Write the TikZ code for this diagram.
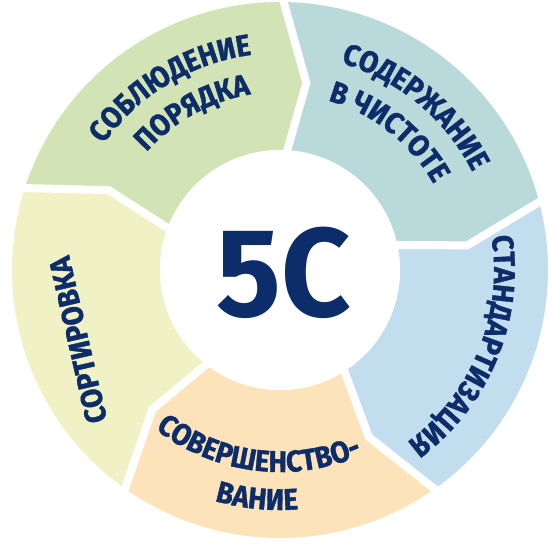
\documentclass[tikz,border=0pt]{standalone}
\usepackage{fontspec}
\newfontfamily\lblfont[FakeStretch=0.92, BoldFeatures={FakeBold=1.2}]{Fira Sans}
\newfontfamily\bigfont[FakeStretch=0.96]{Fira Sans}
\usetikzlibrary{decorations.text,calc}
\definecolor{cgreen}{HTML}{D2E3B5}
\definecolor{cteal}{HTML}{BAD9DA}
\definecolor{cblue}{HTML}{C2DDEE}
\definecolor{cpeach}{HTML}{FDE3BA}
\definecolor{cyellow}{HTML}{F0F1C5}
\definecolor{navy}{HTML}{0C2D69}
\newcommand\ringseg[3]{%
  \fill[#3] (#1+2.7:268pt) arc[start angle=#1+2.7, end angle=#2+2.7, radius=268pt]
    -- (#2-4.5:189pt) -- (#2:120pt) arc[start angle=#2, end angle=#1, radius=120pt]
    -- (#1-4.5:189pt) -- cycle;}
\newcommand\ringgap[1]{%
  \draw[gapline] ($(#1+2.7:268pt)!-0.2!(#1-4.5:189pt)$) -- (#1+2.7:268pt)
    -- (#1-4.5:189pt) -- (#1:120pt) -- ($(#1:120pt)!-0.2!(#1-4.5:189pt)$);}
\newcommand\lblset{\lblfont\bfseries\fontsize{30}{30}\selectfont\color{navy}}
\tikzset{
  gapline/.style={white, line width=8pt, line join=miter},
  lbl/.style={font=\lblfont\bfseries\fontsize{30}{30}\selectfont, text=navy},
}
\begin{document}
\begin{tikzpicture}[x=1pt,y=1pt]
\useasboundingbox (-280,-273) rectangle (273,270);
\fill[white] (-280,-273) rectangle (273,270);
% segments
\ringseg{159.5}{86.5}{cgreen}
\ringseg{86.5}{12}{cteal}
\ringseg{12}{-57.5}{cblue}
\ringseg{-57.5}{-128}{cpeach}
\ringseg{232}{159.5}{cyellow}
% gaps
\ringgap{159.5}
\ringgap{86.5}
\ringgap{12}
\ringgap{-57.5}
\ringgap{-128}
\fill[white] (0,0) circle[radius=120pt];
% centre
\node[font=\bigfont\bfseries\fontsize{126}{126}\selectfont, text=navy, inner sep=0pt] (five) at (4,-3) {5С};
% labels along arcs
\path[decorate, decoration={text along path, text align=center,
  text={|\lblset|СОБЛЮДЕНИЕ}}]
  (156:217pt) arc[start angle=156, end angle=86, radius=217pt];
\path[decorate, decoration={text along path, text align=center,
  text={|\lblset|ПОРЯДКА}}]
  (154:178pt) arc[start angle=154, end angle=84, radius=178pt];
\path[decorate, decoration={text along path, text align=center,
  text={|\lblset|СОДЕРЖАНИЕ}}]
  (85.3:216pt) arc[start angle=85.3, end angle=15.3, radius=216pt];
\path[decorate, decoration={text along path, text align=center,
  text={|\lblset|В ЧИСТОТЕ}}]
  (86.7:176pt) arc[start angle=86.7, end angle=16.7, radius=176pt];
\path[decorate, decoration={text along path, text align=center,
  text={|\lblset|СТАНДАРТИЗАЦИЯ}}]
  (22.7:214pt) arc[start angle=22.7, end angle=-67.3, radius=214pt];
\path[decorate, decoration={text along path, text align=center,
  text={|\lblset|СОВЕРШЕНСТВО-}}]
  (223:202pt) arc[start angle=223, end angle=303, radius=202pt];
\path[decorate, decoration={text along path, text align=center,
  text={|\lblset|ВАНИЕ}}]
  (234.3:240pt) arc[start angle=234.3, end angle=294.3, radius=240pt];
\node[lbl, rotate=103, inner sep=0pt] (sort) at (-202,-70) {СОРТИРОВКА};
\end{tikzpicture}
\end{document}
